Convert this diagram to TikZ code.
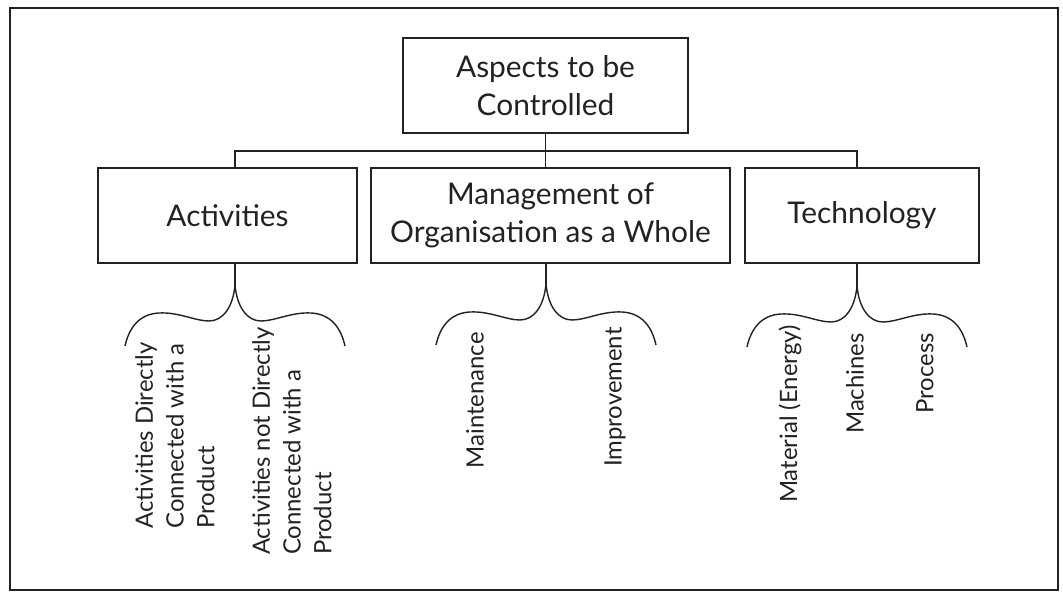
\documentclass[tikz,border=0pt]{standalone}
\usepackage{fontspec}
\setmainfont{Lato}
\usepackage{tikz}
\definecolor{inkgray}{HTML}{222222}
\tikzset{
  box/.style={draw=inkgray, line width=1.1pt, rectangle, align=center, minimum height=1.9cm, text=inkgray, font=\fontsize{17}{22}\selectfont},
  leaf/.style={rotate=90, anchor=east, align=left, inner sep=0pt, text=inkgray, font=\fontsize{13.6}{17.5}\selectfont},
  link/.style={draw=inkgray, line width=1pt},
  wave/.style={draw=inkgray, line width=0.8pt}
}
\newcommand{\wavebrace}[1]{%
  \begin{scope}[shift={(#1)}]
    \draw[wave] (0,0) .. controls +(-2,22) and +(14,0) .. ++(-26,36)
      .. controls +(-14,0) and +(20,-1) .. ++(-50,-8)
      .. controls +(-20,1) and +(4,-18) .. ++(-34,33);
    \draw[wave] (0,0) .. controls +(2,22) and +(-14,0) .. ++(26,36)
      .. controls +(14,0) and +(-20,-1) .. ++(50,-8)
      .. controls +(20,1) and +(-4,-18) .. ++(34,33);
  \end{scope}}

\begin{document}
\begin{tikzpicture}[x=0.02cm, y=-0.02cm]
   \useasboundingbox (0,0) rectangle (1063,594);
   \draw[inkgray, line width=1.2pt] (10,8) rectangle (1058,590);
   \node[box, minimum width=5.7cm] (v0) at (545.5,85.5) {Aspects to be\\Controlled};
   \node[box, minimum width=5.18cm] (v1) at (227.5,215.5) {Activities};
   \node[box, minimum width=7.18cm] (v2) at (550.5,215.5) {Management of\\Organisation as a Whole};
   \node[box, minimum width=4.68cm] (v3) at (862,215.5) {Technology};
   \coordinate (bus) at (546,151);
   \coordinate (t1) at (235,285);
   \coordinate (t2) at (546,284);
   \coordinate (t3) at (857,286);
   \draw[link] (v0.south) -- (v0.south |- v2.north);
   \draw[link] (t1 |- v1.north) |- (bus) -| (t3 |- v3.north);
   \draw[link] (t1 |- v1.south) -- (t1);
   \draw[link] (t2 |- v2.south) -- (t2);
   \draw[link] (t3 |- v3.south) -- (t3);
   \wavebrace{t1}
   \wavebrace{t2}
   \wavebrace{t3}
   \node[leaf] (l1) at (175,342) {Activities Directly\\Connected with a\\Product};
   \node[leaf] (l2) at (292,327) {Activities not Directly\\Connected with a\\Product};
   \node[leaf] (l3) at (475,332) {Maintenance};
   \node[leaf] (l4) at (615,327) {Improvement};
   \node[leaf] (l5) at (790,325) {Material (Energy)};
   \node[leaf] (l6) at (855,333) {Machines};
   \node[leaf] (l7) at (925,333) {Process};
\end{tikzpicture}
\end{document}
